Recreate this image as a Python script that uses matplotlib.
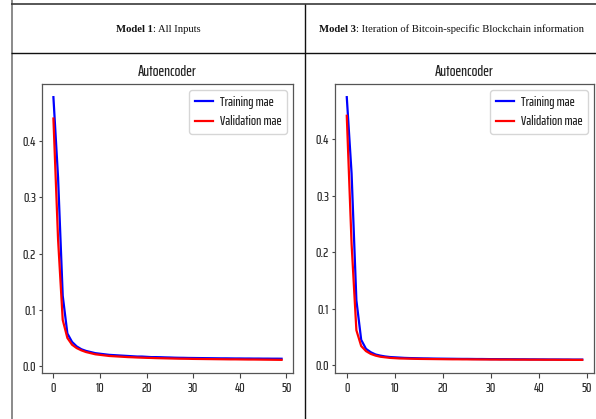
import matplotlib
matplotlib.use("Agg")
import matplotlib.pyplot as plt
from matplotlib.lines import Line2D
from matplotlib.offsetbox import TextArea, HPacker, AnnotationBbox

# ---------------- data ----------------
epochs = list(range(50))

m1_train = [0.478, 0.335, 0.125, 0.058, 0.043, 0.035, 0.030, 0.027, 0.025, 0.023,
            0.022, 0.021, 0.020, 0.0195, 0.019, 0.0185, 0.018, 0.0175, 0.017, 0.017,
            0.0165, 0.016, 0.016, 0.0158, 0.0155, 0.0153, 0.015, 0.0148, 0.0147, 0.0145,
            0.0144, 0.0143, 0.0142, 0.0141, 0.014, 0.0139, 0.0138, 0.0138, 0.0137, 0.0136,
            0.0136, 0.0135, 0.0135, 0.0134, 0.0134, 0.0133, 0.0133, 0.0132, 0.0132, 0.0131]
m1_val = [0.440, 0.225, 0.082, 0.050, 0.038, 0.032, 0.028, 0.025, 0.023, 0.021,
          0.020, 0.019, 0.018, 0.0175, 0.017, 0.0165, 0.016, 0.0157, 0.0153, 0.015,
          0.0147, 0.0145, 0.0142, 0.014, 0.0138, 0.0136, 0.0134, 0.0132, 0.0131, 0.013,
          0.0128, 0.0127, 0.0126, 0.0125, 0.0124, 0.0123, 0.0122, 0.0121, 0.012, 0.012,
          0.0119, 0.0118, 0.0117, 0.0117, 0.0116, 0.0115, 0.0114, 0.0113, 0.0112, 0.0111]

m3_train = [0.475, 0.340, 0.115, 0.045, 0.029, 0.023, 0.019, 0.017, 0.0155, 0.0145,
            0.014, 0.0135, 0.013, 0.0127, 0.0125, 0.0123, 0.0121, 0.012, 0.0118, 0.0117,
            0.0116, 0.0115, 0.0114, 0.0113, 0.0112, 0.0112, 0.0111, 0.011, 0.011, 0.0109,
            0.0108, 0.0108, 0.0107, 0.0107, 0.0106, 0.0106, 0.0105, 0.0105, 0.0104, 0.0104,
            0.0103, 0.0103, 0.0102, 0.0102, 0.0102, 0.0101, 0.0101, 0.0100, 0.0100, 0.0100]
m3_val = [0.442, 0.215, 0.062, 0.034, 0.025, 0.020, 0.017, 0.015, 0.014, 0.013,
          0.0125, 0.012, 0.0118, 0.0116, 0.0114, 0.0112, 0.0111, 0.011, 0.0109, 0.0108,
          0.0107, 0.0106, 0.0105, 0.0105, 0.0104, 0.0104, 0.0103, 0.0103, 0.0102, 0.0102,
          0.0101, 0.0101, 0.0100, 0.0100, 0.0100, 0.0099, 0.0099, 0.0099, 0.0098, 0.0098,
          0.0098, 0.0097, 0.0097, 0.0097, 0.0096, 0.0096, 0.0096, 0.0095, 0.0095, 0.0095]

headers_bold = ["Model 1", "Model 3"]
headers_rest = [": All Inputs", ": Iteration of Bitcoin-specific Blockchain information"]
plot_title = "Autoencoder"
legend_labels = ["Training mae", "Validation mae"]
xticks = [0, 10, 20, 30, 40, 50]
yticks = [0.0, 0.1, 0.2, 0.3, 0.4]

# ---------------- figure ----------------
W, H = 596, 419
fig = plt.figure(figsize=(W / 100, H / 100), dpi=100)
NARROW = ["Saira ExtraCondensed", "DejaVu Sans"]
SERIF = ["Liberation Serif", "DejaVu Serif"]

def px_rect(l, t, r, b):
    return [l / W, 1 - b / H, (r - l) / W, (b - t) / H]

# table lines (figure pixel coords)
def fline(x0, y0, x1, y1, color, lw):
    fig.add_artist(Line2D([x0 / W, x1 / W], [1 - y0 / H, 1 - y1 / H],
                          transform=fig.transFigure, color=color, lw=lw,
                          solid_capstyle="butt"))

fline(11.5, 0, 11.5, H, "#8a8a8a", 1.4)
fline(11, 4, W, 4, "#3a3a3a", 1.2)
fline(11, 53.5, W, 53.5, "#111111", 1.0)
fline(304.5, 4, 304.5, H, "#111111", 1.0)

# header texts
for cx, b, r in [(158, headers_bold[0], headers_rest[0]),
                 (451.5, headers_bold[1], headers_rest[1])]:
    ta1 = TextArea(b, textprops=dict(family=SERIF, weight="bold", size=7.7, color="#111111"))
    ta2 = TextArea(r, textprops=dict(family=SERIF, size=7.7, color="#111111"))
    box = HPacker(children=[ta1, ta2], pad=0, sep=0, align="baseline")
    ab = AnnotationBbox(box, (cx / W, 1 - 29 / H), xycoords="figure fraction",
                        frameon=False, box_alignment=(0.5, 0.5), pad=0)
    fig.add_artist(ab)

axes_px = [(42, 84, 293, 373), (335, 84, 594, 373)]
data = [(m1_train, m1_val), (m3_train, m3_val)]

for (l, t, r, b), (tr, va) in zip(axes_px, data):
    ax = fig.add_axes(px_rect(l, t, r, b))
    ax.plot(epochs, tr, color="#0000ff", lw=1.6, label=legend_labels[0])
    ax.plot(epochs, va, color="#ff0000", lw=1.6, label=legend_labels[1])
    ax.set_xticks(xticks)
    ax.set_yticks(yticks)
    ax.set_yticklabels([f"{v:.1f}" for v in yticks])
    ax.set_xticklabels([str(v) for v in xticks])
    for lab in ax.get_xticklabels() + ax.get_yticklabels():
        lab.set_family(NARROW)
        lab.set_fontsize(10)
        lab.set_weight("medium")
        lab.set_color("#2a2a2a")
    ax.tick_params(axis="y", length=2.2, pad=2.0, color="#444444", width=0.8)
    ax.tick_params(axis="x", length=3.5, pad=3.3, color="#444444", width=0.8)
    for s in ax.spines.values():
        s.set_color("#555555")
        s.set_linewidth(0.9)
    ax.set_title(plot_title, family=NARROW, fontsize=11, weight="medium",
                 color="#222222", pad=6)
    leg = ax.legend(loc="upper right", prop=dict(family=NARROW, size=9.8, weight="medium"),
                    handlelength=1.35, handletextpad=0.5, borderaxespad=0.45,
                    framealpha=0.8, edgecolor="#cccccc")
    for txt in leg.get_texts():
        txt.set_color("#222222")

fig.savefig("out.png", dpi=100)
